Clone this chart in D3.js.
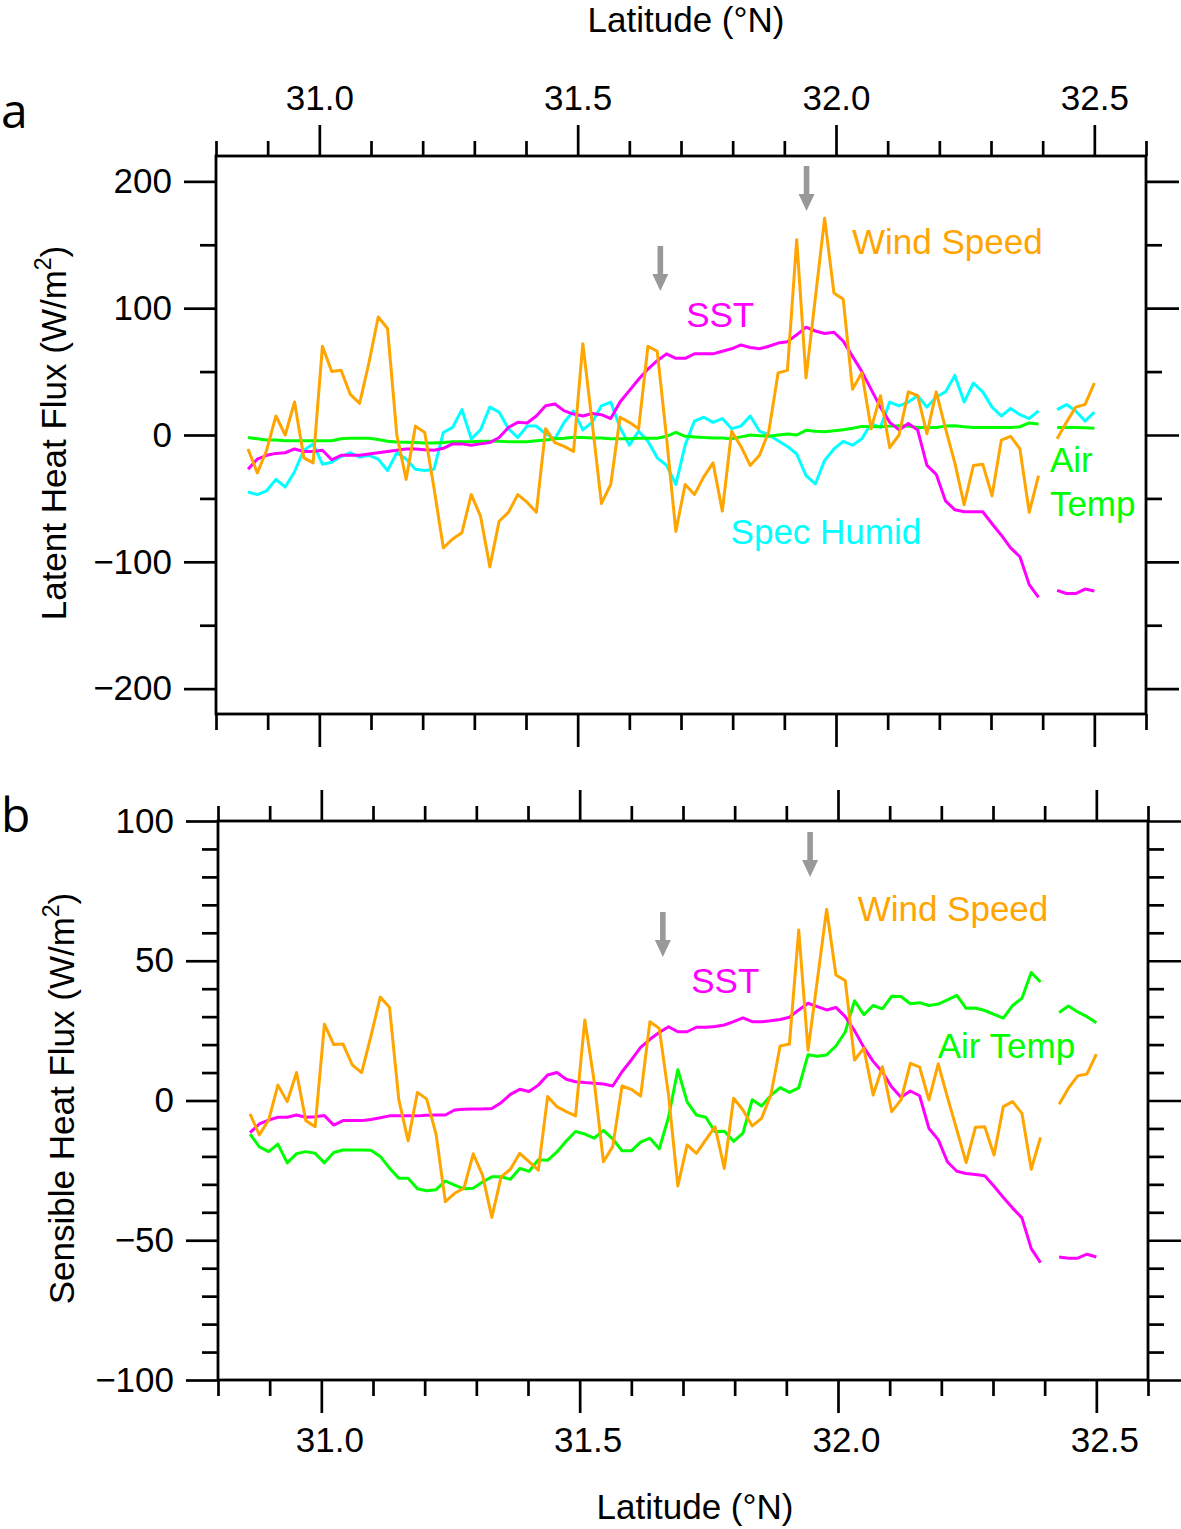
<!DOCTYPE html>
<html>
<head>
<meta charset="utf-8">
<title>Latent and sensible heat flux along track</title>
<script src="https://d3js.org/d3.v7.min.js"></script>
<style>
body {margin: 0; background: #fff;}
svg text {font-family: "Liberation Sans", Arial, Helvetica, sans-serif; fill: #000;}
.axis line {stroke: #000; stroke-width: 2.7;}
.axis text {font-size: 35px; font-family: "Liberation Sans", Arial, sans-serif;}
.series {fill: none; stroke-width: 3; stroke-linejoin: round;}
</style>
</head>
<body>
<svg id="chart" width="1181" height="1529"></svg>
<script>
// latitude of each sample along the track (one sample missing near 32.41)
var lat = [30.862,30.880,30.898,30.916,30.934,30.952,30.970,30.988,31.006,31.024,
    31.042,31.060,31.078,31.096,31.114,31.132,31.150,31.168,31.186,31.204,
    31.222,31.240,31.258,31.276,31.294,31.312,31.330,31.348,31.366,31.384,
    31.402,31.420,31.438,31.456,31.474,31.492,31.510,31.528,31.546,31.564,
    31.582,31.600,31.618,31.636,31.654,31.672,31.690,31.708,31.726,31.744,
    31.762,31.780,31.798,31.816,31.834,31.852,31.870,31.888,31.906,31.924,
    31.942,31.960,31.978,31.996,32.014,32.032,32.050,32.068,32.086,32.104,
    32.122,32.140,32.158,32.176,32.194,32.212,32.230,32.248,32.266,32.284,
    32.302,32.320,32.338,32.356,32.374,32.392,32.410,32.428,32.446,32.464,
    32.482,32.500];

// panel a : latent heat flux contributions (W/m2)
var windA = [-11,-30,-12,15,0,26,-18,-22,70,50,
    51,32,25,57,93,84,0,-35,7,2,
    -42,-89,-82,-77,-47,-64,-104,-68,-61,-47,
    -53,-61,5,-6,-9,-13,72,10,-54,-39,
    14,10,5,70,66,-2,-76,-39,-47,-33,
    -22,-60,3,-9,-24,-16,3,49,51,154,
    45,108,171,112,107,36,49,5,31,-10,
    0,34,31,1,34,5,-22,-55,-24,-23,
    -48,-4,-1,-11,-61,-32,null,-3,10,22,
    24,41];
var sstA = [-27,-19,-16,-14.5,-14,-11,-13,-13,-12,-19.5,
    -16,-16,-16,-15,-14,-13,-12,-11,-11,-11.6,
    -12,-10.5,-7,-7,-8,-7,-6,-2,6,10,
    9.5,15,23,24.5,19,16.5,15,17,16,13,
    26,35,44,52,58.6,64,60.5,60.5,64,64,
    64,66,68,71,69,68,70,72.5,73.6,79,
    85,82,80,81,74,62,50,36,22,10,
    4,9,4,-24,-31,-52,-59,-60.5,-60.5,-60.5,
    -70,-79,-89,-96,-118,-128,null,-122.5,-125,-125,
    -121.5,-123];
var humidA = [-45,-47,-44,-35,-41,-29,-12,-7,-23,-21.5,
    -17,-14,-17.5,-16,-19,-28,-14,-19,-27,-28,
    -27,2,6,20,-3,4,22,18,5,-2,
    7,7,1,-3,10,19,4,10,23,26,
    6,-8,3,-5,-18,-24,-39,-8,11,14,
    10,13,5,7,15,3,0,-4.5,-9,-15,
    -32,-38.6,-20,-11,-5,-8,-3,9,6,26,
    23,26,31,22,30,34,47,26,41,34,
    22,15,21,16,13,19,null,20,24,19,
    11,18];
var airA = [-2,-3,-4,-4,-4.5,-4.5,-4.5,-4.5,-4.5,-4.5,
    -3,-2.6,-2.6,-2.6,-3.5,-5,-5.5,-5.8,-6,-6.3,
    -6.3,-6,-5.3,-5.3,-5.3,-5,-5,-5,-5.3,-5.3,
    -5.3,-4.5,-4,-3,-2.5,-1.8,-2,-2.4,-2.4,-3,
    -3,-3,-2.6,-2.6,-2.6,-1,2,-1,-1.5,-2,
    -2.4,-2.4,-3,-1.5,0,-0.5,-1,0,0.8,0,
    3.7,3,2.6,3.4,4.2,5.3,6.8,6.5,6.5,7,
    7.3,7,6,6,6,7,7.3,6.5,6,6,
    6,6,6,6.5,9.5,8.7,null,6,6,6,
    5.8,5.3];

// panel b : sensible heat flux contributions (W/m2)
var windB = [-4.8,-12.3,-7,5.5,-0.4,10,-7.2,-9.4,27.3,20,
    20.2,12.7,10,23,37,33.3,0.2,-14.4,2.9,0.5,
    -12,-36.2,-33.2,-31.4,-19.1,-26.7,-41.8,-27.3,-24.6,-18.9,
    -21.9,-24.9,1.4,-2.2,-4,-5.5,28.8,7,-21.9,-16.5,
    5.2,4,1.6,28.2,25.8,2,-30.6,-15.9,-18.9,-14.1,
    -9.4,-24.3,0.8,-3.4,-9.1,-6.4,2,19.5,20.2,61,
    18,43,68.4,44.9,42.9,14.5,18.7,2,12.1,-4,
    0.2,13.3,11.9,0.2,13.1,1,-10.5,-22.2,-9.6,-9.4,
    -19.5,-2.2,-0.4,-4.6,-24.6,-13.2,null,-1.3,4.4,8.8,
    9.5,16.6];
var sstB = [-11.5,-8.4,-7,-6,-6,-5.2,-6,-5.8,-5.4,-8.8,
    -7.2,-7.2,-7.2,-6.8,-6.2,-5.5,-5.5,-5.5,-5.5,-5.3,
    -5.2,-5.2,-3.4,-3.1,-3,-3,-2.9,-0.8,2.2,4,
    3.2,5.5,9.1,10,7.6,6.7,6.4,6.2,5.9,5.2,
    10.3,14.5,19,21.9,24.3,26.4,24.6,24.6,26.2,26.2,
    26.5,27,28.2,29.6,28.2,28.2,28.5,29,29.8,32.4,
    34.8,33.6,32.4,33.3,30,25,19,14,10.2,4.8,
    1.2,3.4,1.7,-10,-14,-22,-25.3,-26.1,-26.5,-26.9,
    -30.7,-34.7,-38.5,-42,-53,-58,null,-56,-56.4,-56.4,
    -55,-56];
var airB = [-12,-16.6,-18.3,-15.6,-22.3,-19,-18.3,-18.9,-22.3,-18.6,
    -17.7,-17.7,-17.7,-17.8,-20,-24.2,-27.8,-27.8,-31.6,-32.3,
    -31.9,-28.8,-30.3,-31.6,-31.4,-29.2,-27.3,-27.3,-28.2,-24.3,
    -25.3,-21.2,-21.4,-18.4,-14.5,-11.1,-12,-13.5,-10.7,-13.7,
    -18,-18,-14.9,-13.5,-17.3,-6,11,-0.5,-5.2,-6,
    -11.2,-11,-14.6,-11.7,0.3,-2,1.8,4.6,2.9,4.5,
    16.4,15.8,16.3,19.5,24.5,35.7,30.7,34,32.8,37.3,
    37.2,34.6,35,34,34.5,36,37.6,33,33.1,32.2,
    30.8,29.5,34,36.6,45.8,42.4,null,31.5,33.8,31.7,
    30,27.8];

// tick values
var xMajor = [31.0, 31.5, 32.0, 32.5];
var xMinor = [30.8, 30.9, 31.1, 31.2, 31.3, 31.4, 31.6, 31.7, 31.8, 31.9, 32.1, 32.2, 32.3, 32.4, 32.6];
var yMajorA = [-200, -100, 0, 100, 200];
var yMinorA = [-150, -50, 50, 150];
var yMajorB = [-100, -50, 0, 50, 100];
var yMinorB = [-90,-80,-70,-60,-40,-30,-20,-10,10,20,30,40,60,70,80,90];

var svg = d3.select("#chart");

var panels = [
    {
        letter: "a", x0: 216, x1: 1146, top: 156, bottom: 714, domain: [-220, 220],
        yMajor: yMajorA, yMinor: yMinorA, topLabels: true, bottomLabels: false,
        ytitle: "Latent Heat Flux (W/m", ytx: 66, letterY: 128,
        series: [
            {vals: humidA, color: "#00ffff"},
            {vals: airA, color: "#00ff00"},
            {vals: sstA, color: "#ff00ff"},
            {vals: windA, color: "#ffa500"}
        ],
        labels: [
            {text: "Wind Speed", lat: 32.031, v: 142.7, color: "#ffa500"},
            {text: "SST", lat: 31.71, v: 85.2, color: "#ff00ff"},
            {text: "Spec Humid", lat: 31.796, v: -86, color: "#00ffff"},
            {text: "Air", lat: 32.414, v: -29, color: "#00ff00"},
            {text: "Temp", lat: 32.414, v: -63.6, color: "#00ff00"}
        ],
        arrows: [{lat: 31.66, v: 113.6}, {lat: 31.943, v: 176.7}]
    },
    {
        letter: "b", x0: 218, x1: 1148, top: 821, bottom: 1380, domain: [-100, 100],
        yMajor: yMajorB, yMinor: yMinorB, topLabels: false, bottomLabels: true,
        ytitle: "Sensible Heat Flux (W/m", ytx: 74, letterY: 832,
        series: [
            {vals: airB, color: "#00ff00"},
            {vals: sstB, color: "#ff00ff"},
            {vals: windB, color: "#ffa500"}
        ],
        labels: [
            {text: "Wind Speed", lat: 32.038, v: 64.3, color: "#ffa500"},
            {text: "SST", lat: 31.716, v: 38.5, color: "#ff00ff"},
            {text: "Air Temp", lat: 32.193, v: 15.2, color: "#00ff00"}
        ],
        arrows: [{lat: 31.661, v: 51.3}, {lat: 31.946, v: 80}]
    }
];

var fmtX = d3.format(".1f");

function addAxis(axis, transform) {
    return svg.append("g").attr("class", "axis")
        .attr("transform", transform)
        .call(axis)
        .call(function(g){ g.select(".domain").remove(); });
}

panels.forEach(function(p){
    var x = d3.scaleLinear().domain([30.8, 32.6]).range([p.x0, p.x1]);
    var y = d3.scaleLinear().domain(p.domain).range([p.bottom, p.top]);

    // x axes, ticks pointing outward
    addAxis(d3.axisTop(x).tickValues(xMajor).tickSize(31).tickPadding(15)
        .tickFormat(p.topLabels ? fmtX : ""), "translate(0," + p.top + ")");
    addAxis(d3.axisTop(x).tickValues(xMinor).tickSize(15).tickFormat(""), "translate(0," + p.top + ")");
    var bx = addAxis(d3.axisBottom(x).tickValues(xMajor).tickSize(33).tickPadding(14)
        .tickFormat(p.bottomLabels ? fmtX : ""), "translate(0," + p.bottom + ")");
    addAxis(d3.axisBottom(x).tickValues(xMinor).tickSize(16).tickFormat(""), "translate(0," + p.bottom + ")");
    // bottom labels sit slightly right of their ticks in the original
    if (p.bottomLabels) bx.selectAll("text").attr("dx", 8);

    // y axes
    addAxis(d3.axisLeft(y).tickValues(p.yMajor).tickSize(32).tickPadding(12), "translate(" + p.x0 + ",0)");
    addAxis(d3.axisLeft(y).tickValues(p.yMinor).tickSize(16).tickFormat(""), "translate(" + p.x0 + ",0)");
    addAxis(d3.axisRight(y).tickValues(p.yMajor).tickSize(33).tickFormat(""), "translate(" + p.x1 + ",0)");
    addAxis(d3.axisRight(y).tickValues(p.yMinor).tickSize(16).tickFormat(""), "translate(" + p.x1 + ",0)");

    // series
    var line = d3.line()
        .defined(function(d){ return d[1] != null; })
        .x(function(d){ return x(d[0]); })
        .y(function(d){ return y(d[1]); });
    p.series.forEach(function(s){
        svg.append("path")
            .attr("class", "series")
            .attr("stroke", s.color)
            .attr("d", line(lat.map(function(l, i){ return [l, s.vals[i]]; })));
    });

    // plot frame
    svg.append("rect")
        .attr("x", p.x0).attr("y", p.top)
        .attr("width", p.x1 - p.x0).attr("height", p.bottom - p.top)
        .attr("fill", "none").attr("stroke", "#000").attr("stroke-width", 2.8);

    // arrows marking the two fronts
    p.arrows.forEach(function(a){
        var tx = x(a.lat), ty = y(a.v);
        svg.append("path")
            .attr("d", "M" + (tx - 2.8) + "," + (ty - 45) + "H" + (tx + 2.8) + "V" + (ty - 17) +
                "H" + (tx + 8) + "L" + tx + "," + ty + "L" + (tx - 8) + "," + (ty - 17) +
                "H" + (tx - 2.8) + "Z")
            .attr("fill", "#999999");
    });

    // series names
    svg.selectAll(null).data(p.labels).enter().append("text")
        .attr("x", function(d){ return x(d.lat); })
        .attr("y", function(d){ return y(d.v); })
        .attr("font-size", 35)
        .style("fill", function(d){ return d.color; })
        .text(function(d){ return d.text; });

    // y title
    var yt = svg.append("text")
        .attr("transform", "translate(" + p.ytx + "," + ((p.top + p.bottom) / 2 - 2) + ") rotate(-90)")
        .attr("text-anchor", "middle")
        .attr("font-size", 35);
    yt.append("tspan").text(p.ytitle);
    yt.append("tspan").attr("dy", -15).attr("font-size", 23).text("2");
    yt.append("tspan").attr("dy", 15).text(")");

    // panel letter
    svg.append("text")
        .attr("x", 1).attr("y", p.letterY)
        .attr("font-size", 48)
        .style("font-family", "'Open Sans', 'DejaVu Sans', sans-serif")
        .text(p.letter);
});

// x titles
svg.append("text").attr("x", 686).attr("y", 32).attr("text-anchor", "middle")
    .attr("font-size", 35).text("Latitude (°N)");
svg.append("text").attr("x", 695).attr("y", 1519).attr("text-anchor", "middle")
    .attr("font-size", 35).text("Latitude (°N)");
</script>
</body>
</html>
